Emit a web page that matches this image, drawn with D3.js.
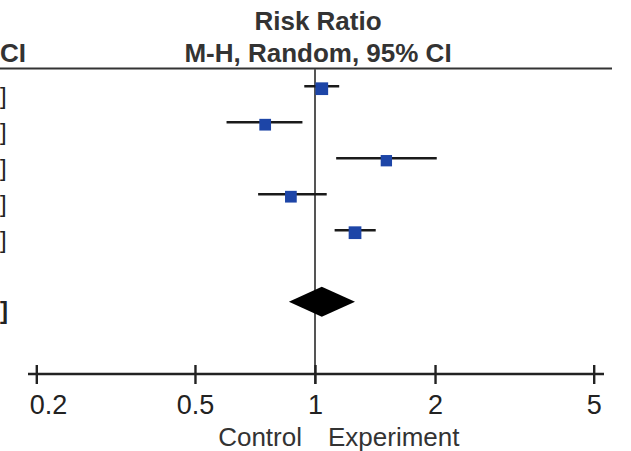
<!DOCTYPE html>
<html>
<head>
<meta charset="utf-8">
<script src="https://cdn.jsdelivr.net/npm/d3@7"></script>
<style>
  html, body { margin: 0; padding: 0; background: #fff; }
  svg { display: block; font-family: "Liberation Sans", Arial, Helvetica, sans-serif; }
</style>
</head>
<body>
<svg id="chart" width="631" height="451"></svg>
<script>
// Study-level risk ratios with 95% confidence limits
const studies   = ["Study 1", "Study 2", "Study 3", "Study 4", "Study 5"];
const estimates = [1.04, 0.75, 1.51, 0.87, 1.26];
const lower     = [0.94, 0.60, 1.13, 0.72, 1.12];
const upper     = [1.15, 0.93, 2.02, 1.07, 1.42];
const weights   = [22.2, 18.9, 17.7, 18.9, 22.3];

// Pooled (random-effects) estimate
const pooled = { est: 1.04, lo: 0.86, hi: 1.26 };

const tickValues = [0.2, 0.5, 1, 2, 5];
const tickLabels = ["0.2", "0.5", "1", "2", "5"];

const svg = d3.select("#chart");

const x = d3.scaleLog().domain([0.2, 5]).range([36.3, 593.7]);
const y = d3.scaleLinear().domain([0, 6]).range([86.3, 302.3]);
const boxSide = d3.scaleSqrt().domain([0, 22.2]).range([0, 12.7]);

// Column headers
svg.append("text")
  .attr("x", 318).attr("y", 30)
  .attr("text-anchor", "middle")
  .attr("font-weight", "bold").attr("font-size", 26).attr("fill", "#333")
  .text("Risk Ratio");
svg.append("text")
  .attr("x", 318).attr("y", 62)
  .attr("text-anchor", "middle")
  .attr("font-weight", "bold").attr("font-size", 26).attr("fill", "#333")
  .text("M-H, Random, 95% CI");
// tail of the neighbouring column header
svg.append("text")
  .attr("x", 0).attr("y", 62)
  .attr("text-anchor", "start")
  .attr("font-weight", "bold").attr("font-size", 26).attr("fill", "#333")
  .text("CI");

// Header rule
svg.append("line")
  .attr("x1", 0).attr("x2", 612)
  .attr("y1", 68.5).attr("y2", 68.5)
  .attr("stroke", "#333").attr("stroke-width", 2);

// Line of no effect
svg.append("line")
  .attr("x1", x(1)).attr("x2", x(1))
  .attr("y1", 69).attr("y2", 384)
  .attr("stroke", "#555").attr("stroke-width", 2);

// Closing brackets of the neighbouring effect-size column
svg.append("g").selectAll("text")
  .data(studies)
  .join("text")
  .attr("x", 0)
  .attr("y", (d, i) => y(i) + 18)
  .attr("text-anchor", "start")
  .attr("font-size", 24).attr("fill", "#222")
  .text("]");
svg.append("text")
  .attr("x", 0).attr("y", y(6) + 17)
  .attr("text-anchor", "start")
  .attr("font-size", 24).attr("font-weight", "bold").attr("fill", "#222")
  .text("]");

// Confidence interval whiskers
svg.append("g").selectAll("line")
  .data(studies)
  .join("line")
  .attr("x1", (d, i) => x(lower[i]))
  .attr("x2", (d, i) => x(upper[i]))
  .attr("y1", (d, i) => y(i))
  .attr("y2", (d, i) => y(i))
  .attr("stroke", "#1a1a1a").attr("stroke-width", 2.6);

// Weighted point estimates
svg.append("g").selectAll("rect")
  .data(studies)
  .join("rect")
  .attr("x", (d, i) => x(estimates[i]) - boxSide(weights[i]) / 2)
  .attr("y", (d, i) => y(i) + 2.4 - boxSide(weights[i]) / 2)
  .attr("width", (d, i) => boxSide(weights[i]))
  .attr("height", (d, i) => boxSide(weights[i]))
  .attr("fill", "#1d45a7");

// Pooled diamond
const yp = y(6);
svg.append("path")
  .attr("d", `M${x(pooled.lo)},${yp - 0.5} L${x(pooled.est)},${yp - 15.5} L${x(pooled.hi)},${yp - 0.5} L${x(pooled.est)},${yp + 14.5} Z`)
  .attr("fill", "#000");

// Bottom axis
const axisY = 374;
const axis = d3.axisBottom(x)
  .tickValues(tickValues)
  .tickFormat((d, i) => tickLabels[i])
  .tickSize(0)
  .tickPadding(0);
const ag = svg.append("g").attr("transform", `translate(0,${axisY})`).call(axis);
ag.select(".domain").remove();
ag.append("line")
  .attr("x1", 28).attr("x2", 604)
  .attr("stroke", "#222").attr("stroke-width", 2.4);
ag.selectAll(".tick line")
  .attr("y1", -9).attr("y2", 10)
  .attr("stroke", "#222").attr("stroke-width", 2.4);
ag.selectAll(".tick text")
  .attr("y", 40).attr("dy", null)
  .attr("font-size", 27)
  .attr("font-family", "Liberation Sans, Arial, sans-serif")
  .attr("fill", "#222");
// leftmost label sits just inside the axis start
ag.selectAll(".tick text").filter((d, i) => i === 0)
  .attr("text-anchor", "start")
  .attr("x", -7);

// Favours labels
svg.append("text")
  .attr("x", 302).attr("y", 446)
  .attr("text-anchor", "end")
  .attr("font-size", 26).attr("fill", "#333")
  .text("Control");
svg.append("text")
  .attr("x", 328).attr("y", 446)
  .attr("text-anchor", "start")
  .attr("font-size", 26).attr("fill", "#333")
  .text("Experiment");
</script>
</body>
</html>
